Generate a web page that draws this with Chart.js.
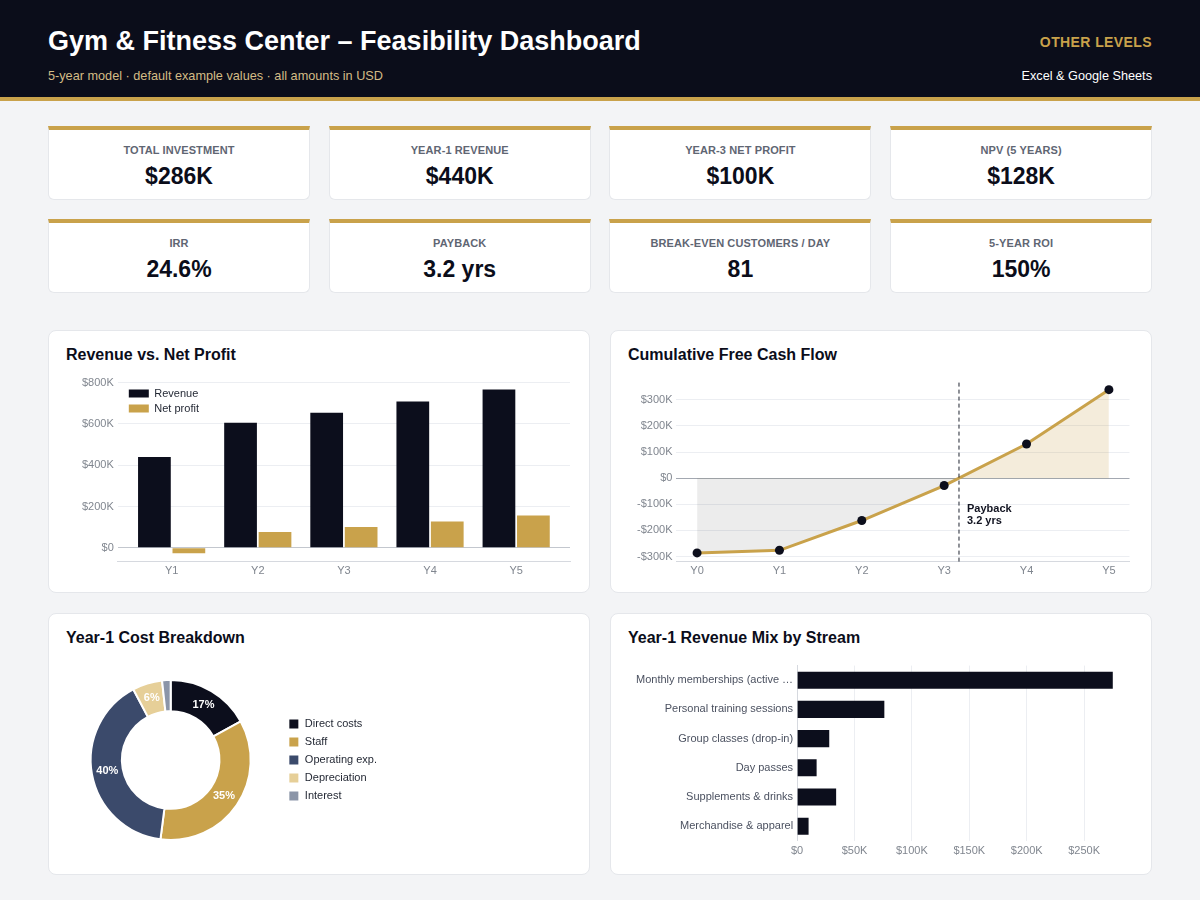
<!DOCTYPE html>
<html lang="en">
<head>
<meta charset="utf-8">
<title>Gym &amp; Fitness Center – Feasibility Dashboard</title>
<script src="https://cdn.jsdelivr.net/npm/chart.js@4.4.1/dist/chart.umd.min.js"></script>
<style>
    * { box-sizing: border-box; }
    body {
        margin: 0;
        width: 1200px;
        height: 900px;
        position: relative;
        overflow: hidden;
        background: #f3f4f6;
        font-family: "Liberation Sans", Arial, sans-serif;
        color: #0b0d1a;
    }
    .header {
        position: absolute; left: 0; top: 0;
        width: 1200px; height: 101px;
        background: #0b0d1a;
        border-bottom: 4px solid #c9a24b;
    }
    .header h1 {
        position: absolute; left: 48px; top: 25px; margin: 0;
        font-size: 27px; line-height: 32px; font-weight: bold; color: #ffffff;
    }
    .header .sub {
        position: absolute; left: 48px; top: 68px;
        font-size: 12.7px; line-height: 16px; color: #d4bc86;
    }
    .header .brand {
        position: absolute; right: 48px; top: 34px;
        font-size: 14px; line-height: 16px; font-weight: bold; color: #c9a24b; letter-spacing: 0.4px;
    }
    .header .tool {
        position: absolute; right: 48px; top: 68px;
        font-size: 12.7px; line-height: 16px; color: #ffffff;
    }
    .kpi {
        position: absolute; width: 262px; height: 74px;
        background: #ffffff;
        border: 1px solid #e5e7eb; border-top: 4px solid #c9a24b;
        border-radius: 0 0 6px 6px;
        text-align: center;
    }
    .kpi .label {
        margin-top: 13px; font-size: 11px; line-height: 14px; font-weight: bold;
        color: #5f6673; letter-spacing: 0.1px;
    }
    .kpi .value {
        margin-top: 5px; font-size: 23px; line-height: 28px; font-weight: bold; color: #0b0d1a;
    }
    .card {
        position: absolute; width: 542px; height: 263px;
        background: #ffffff; border: 1px solid #e5e7eb; border-radius: 8px;
    }
    .card h2 {
        position: absolute; left: 17px; top: 14px; margin: 0;
        font-size: 16px; line-height: 20px; font-weight: bold; color: #0b0d1a;
    }
    .plot { position: absolute; }
</style>
</head>
<body>
<div class="header">
    <h1>Gym &amp; Fitness Center – Feasibility Dashboard</h1>
    <div class="sub">5-year model · default example values · all amounts in USD</div>
    <div class="brand">OTHER LEVELS</div>
    <div class="tool">Excel &amp; Google Sheets</div>
</div>

<div id="kpis"></div>

<div class="card" style="left:48px; top:330px;">
    <h2>Revenue vs. Net Profit</h2>
    <div class="plot" style="left:17px; top:41px; width:506px; height:210px;"><canvas id="revenueChart"></canvas></div>
</div>
<div class="card" style="left:610px; top:330px;">
    <h2>Cumulative Free Cash Flow</h2>
    <div class="plot" style="left:17px; top:41px; width:506px; height:210px;"><canvas id="cashChart"></canvas></div>
</div>
<div class="card" style="left:48px; top:613px; height:262px;">
    <h2>Year-1 Cost Breakdown</h2>
    <div class="plot" style="left:22px; top:46px; width:305px; height:200px;"><canvas id="costChart"></canvas></div>
</div>
<div class="card" style="left:610px; top:613px; height:262px;">
    <h2>Year-1 Revenue Mix by Stream</h2>
    <div class="plot" style="left:17px; top:41px; width:506px; height:207px;"><canvas id="streamChart"></canvas></div>
</div>

<script>
const kpiLabels = ['TOTAL INVESTMENT', 'YEAR-1 REVENUE', 'YEAR-3 NET PROFIT', 'NPV (5 YEARS)',
    'IRR', 'PAYBACK', 'BREAK-EVEN CUSTOMERS / DAY', '5-YEAR ROI'];
const kpiValues = ['$286K', '$440K', '$100K', '$128K', '24.6%', '3.2 yrs', '81', '150%'];

const years = ['Y1', 'Y2', 'Y3', 'Y4', 'Y5'];
const revenue = [440000, 606000, 654000, 708000, 766000];
const netProfit = [-27000, 76000, 100000, 127000, 156000];

const cashYears = ['Y0', 'Y1', 'Y2', 'Y3', 'Y4', 'Y5'];
const cumulativeFcf = [-286000, -276000, -162000, -28000, 131000, 339000];
const paybackYears = 3.18;

const costLabels = ['Direct costs', 'Staff', 'Operating exp.', 'Depreciation', 'Interest'];
const costValues = [79000, 163000, 187000, 28000, 8000];

const streamLabels = ['Monthly memberships (active members)', 'Personal training sessions',
    'Group classes (drop-in)', 'Day passes', 'Supplements & drinks', 'Merchandise & apparel'];
const streamValues = [275000, 76000, 28000, 17000, 34000, 10000];

const NAVY = '#0c0e1c';
const GOLD = '#c9a24b';
const FONT = '"Liberation Sans", Arial, sans-serif';
const GRID = '#eceef2';
const AXIS = '#d6d9df';

Chart.defaults.font.family = FONT;
Chart.defaults.font.size = 11;
Chart.defaults.color = '#80868f';
Chart.defaults.animation = false;
Chart.defaults.maintainAspectRatio = false;
Chart.defaults.plugins.tooltip.enabled = false;

function money(v) {
    if (v === 0) return '$0';
    return (v < 0 ? '-' : '') + '$' + Math.abs(v) / 1000 + 'K';
}

// ticks on round steps only, even when min / max are not round
function stepTicks(step) {
    return (scale) => {
        const ticks = [];
        for (let v = Math.ceil(scale.min / step) * step; v <= scale.max + 1e-9; v += step) {
            ticks.push({ value: v });
        }
        scale.ticks = ticks;
    };
}

// pushes a legend a few pixels, chart.js has no option for it
const legendNudge = {
    id: 'legendNudge',
    afterLayout(chart, args, opts) {
        if (!chart.legend) return;
        chart.legend.left += opts.x || 0;
        chart.legend.top += opts.y || 0;
    }
};

const sliceLabels = {
    id: 'sliceLabels',
    afterDatasetsDraw(chart) {
        const ctx = chart.ctx;
        const values = chart.data.datasets[0].data;
        const total = values.reduce((a, b) => a + b, 0);
        ctx.save();
        ctx.font = 'bold 11px ' + FONT;
        ctx.fillStyle = '#ffffff';
        ctx.textAlign = 'center';
        ctx.textBaseline = 'middle';
        chart.getDatasetMeta(0).data.forEach((arc, i) => {
            const pct = values[i] / total * 100;
            if (pct < 4) return;
            const pos = arc.tooltipPosition();
            ctx.fillText(Math.round(pct) + '%', pos.x, pos.y);
        });
        ctx.restore();
    }
};

const paybackLine = {
    id: 'paybackLine',
    afterDatasetsDraw(chart, args, opts) {
        const {ctx, chartArea, scales} = chart;
        const x = scales.x.getPixelForValue(opts.value);
        const zero = scales.y.getPixelForValue(0);
        ctx.save();
        ctx.strokeStyle = '#1f2430';
        ctx.lineWidth = 1;
        ctx.setLineDash([4, 3]);
        ctx.beginPath();
        ctx.moveTo(x, chartArea.top);
        ctx.lineTo(x, chartArea.bottom);
        ctx.stroke();
        ctx.setLineDash([]);
        ctx.fillStyle = '#111320';
        ctx.font = 'bold 11px ' + FONT;
        ctx.textAlign = 'left';
        ctx.textBaseline = 'middle';
        ctx.fillText('Payback', x + 8, zero + 31);
        ctx.fillText(opts.value.toFixed(1) + ' yrs', x + 8, zero + 43);
        ctx.restore();
    }
};

function renderKpis() {
    const holder = document.getElementById('kpis');
    kpiLabels.forEach((label, i) => {
        const card = document.createElement('div');
        card.className = 'kpi';
        card.style.left = (48 + (i % 4) * 280.7) + 'px';
        card.style.top = (i < 4 ? 126 : 219) + 'px';
        card.innerHTML = '<div class="label"></div><div class="value"></div>';
        card.querySelector('.label').textContent = label;
        card.querySelector('.value').textContent = kpiValues[i];
        holder.appendChild(card);
    });
}

function renderRevenueChart() {
    const ctx = document.getElementById('revenueChart').getContext('2d');
    new Chart(ctx, {
        type: 'bar',
        data: {
            datasets: [{
                label: 'Revenue',
                data: revenue.map((v, i) => ({x: i + 1, y: v})),
                backgroundColor: NAVY,
                barPercentage: 0.95,
            }, {
                label: 'Net profit',
                data: netProfit.map((v, i) => ({x: i + 1, y: v})),
                backgroundColor: GOLD,
                barPercentage: 0.95,
            }],
        },
        options: {
            layout: { padding: { left: 12, right: 2, top: 9, bottom: 1 } },
            scales: {
                x: {
                    type: 'linear',
                    offset: false,
                    min: 0.375,
                    max: 5.625,
                    bounds: 'data',
                    afterBuildTicks: stepTicks(1),
                    grid: { display: false, drawTicks: false },
                    border: { display: true, color: AXIS },
                    ticks: { padding: 3, callback: (v) => years[v - 1] || '' },
                },
                y: {
                    min: -68000,
                    max: 800000,
                    bounds: 'data',
                    afterBuildTicks: stepTicks(200000),
                    grid: {
                        drawTicks: false,
                        color: (c) => (c.tick && c.tick.value === 0 ? '#c3c7ce' : GRID),
                    },
                    border: { display: false },
                    ticks: { padding: 4, callback: money },
                },
            },
            plugins: {
                legend: {
                    position: 'chartArea',
                    align: 'start',
                    labels: {
                        boxWidth: 20,
                        boxHeight: 8,
                        padding: 4,
                        color: '#1f2430',
                        font: { size: 11 },
                    },
                },
                legendNudge: { x: 7, y: 12 },
            },
        },
        plugins: [legendNudge],
    });
}

function renderCashChart() {
    const ctx = document.getElementById('cashChart').getContext('2d');
    new Chart(ctx, {
        type: 'line',
        data: {
            datasets: [{
                label: 'Cumulative FCF',
                data: cumulativeFcf.map((v, i) => ({x: i, y: v})),
                borderColor: GOLD,
                borderWidth: 3,
                pointRadius: 4.5,
                pointBackgroundColor: NAVY,
                pointBorderColor: NAVY,
                pointBorderWidth: 0,
                tension: 0,
                fill: {
                    target: { value: 0 },
                    above: 'rgba(201, 162, 75, 0.2)',
                    below: 'rgba(0, 0, 0, 0.075)',
                },
            }],
        },
        options: {
            layout: { padding: { left: 5, right: 3, top: 9, bottom: 1 } },
            scales: {
                x: {
                    type: 'linear',
                    min: -0.25,
                    max: 5.25,
                    bounds: 'data',
                    afterBuildTicks: stepTicks(1),
                    grid: { display: false, drawTicks: false },
                    border: { display: true, color: AXIS },
                    ticks: { padding: 3, callback: (v) => cashYears[v] || '' },
                },
                y: {
                    min: -320000,
                    max: 366000,
                    bounds: 'data',
                    afterBuildTicks: stepTicks(100000),
                    grid: {
                        drawTicks: false,
                        color: (c) => (c.tick && c.tick.value === 0 ? '#a3a8b1' : GRID),
                    },
                    border: { display: false },
                    ticks: { padding: 4, callback: money },
                },
            },
            plugins: {
                legend: { display: false },
                paybackLine: { value: paybackYears },
            },
        },
        plugins: [paybackLine],
    });
}

function renderCostChart() {
    const ctx = document.getElementById('costChart').getContext('2d');
    new Chart(ctx, {
        type: 'doughnut',
        data: {
            labels: costLabels,
            datasets: [{
                data: costValues,
                backgroundColor: [NAVY, GOLD, '#3b4a6b', '#e6cf98', '#8b95a8'],
                borderColor: '#ffffff',
                borderWidth: 2,
            }],
        },
        options: {
            cutout: '61%',
            layout: { padding: { left: 0, right: 0, top: 19, bottom: 19 } },
            plugins: {
                legend: {
                    position: 'right',
                    labels: {
                        boxWidth: 11,
                        boxHeight: 11,
                        padding: 7,
                        color: '#1f2430',
                        font: { size: 11 },
                    },
                },
                legendNudge: { x: 11, y: 0 },
            },
        },
        plugins: [sliceLabels, legendNudge],
    });
}

function renderStreamChart() {
    const ctx = document.getElementById('streamChart').getContext('2d');
    new Chart(ctx, {
        type: 'bar',
        data: {
            labels: streamLabels,
            datasets: [{
                label: 'Year-1 revenue',
                data: streamValues,
                backgroundColor: NAVY,
                barPercentage: 0.73,
            }],
        },
        options: {
            indexAxis: 'y',
            layout: { padding: { left: 4, right: 4, top: 9, bottom: 0 } },
            scales: {
                x: {
                    min: 0,
                    max: 290000,
                    bounds: 'data',
                    afterBuildTicks: stepTicks(50000),
                    grid: { drawTicks: false, color: GRID },
                    border: { display: false },
                    ticks: { padding: 4, maxRotation: 0, callback: money },
                },
                y: {
                    grid: { display: false, drawTicks: false },
                    border: { display: true, color: AXIS },
                    ticks: {
                        color: '#4b5160',
                        padding: 4,
                        callback: function (value) {
                            const label = this.getLabelForValue(value);
                            return label.length > 28 ? label.slice(0, 28) + '…' : label;
                        },
                    },
                },
            },
            plugins: { legend: { display: false } },
        },
    });
}

document.addEventListener('DOMContentLoaded', () => {
    renderKpis();
    renderRevenueChart();
    renderCashChart();
    renderCostChart();
    renderStreamChart();
});
</script>
</body>
</html>
